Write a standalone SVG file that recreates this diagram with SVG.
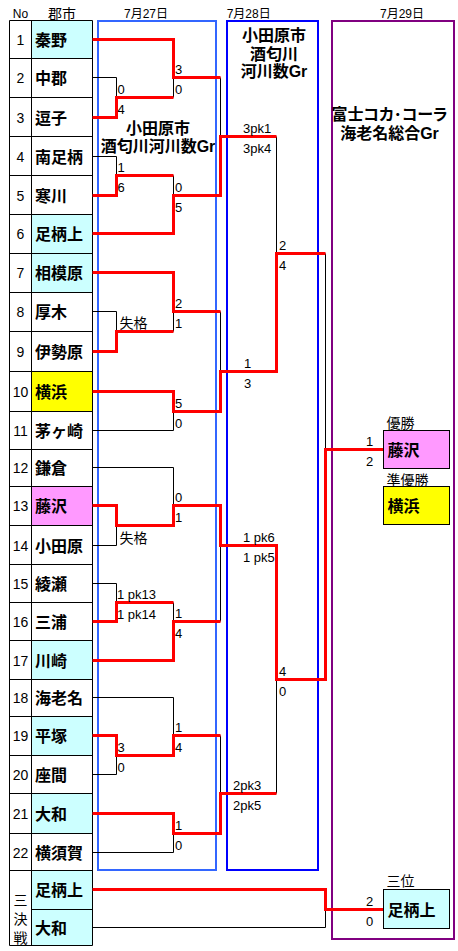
<svg xmlns="http://www.w3.org/2000/svg" width="458" height="951" viewBox="0 0 458 951">
<style>
.bg{fill:#fff}
.cell{fill:none;stroke:#000;stroke-width:1}
.cy{fill:#CCFFFF}
.ye{fill:#FFFF00}
.pk{fill:#FF99FF}
.k{fill:none;stroke:#000;stroke-width:1}
.r{fill:none;stroke:#FF0000;stroke-width:3;stroke-linejoin:miter}
.no{font:14px "Liberation Sans","Noto Sans CJK JP",sans-serif;text-anchor:middle;fill:#000}
.nm{font-weight:bold;font-size:16px;font-family:"Liberation Sans","Noto Sans CJK JP",sans-serif;fill:#000}
.sc{font:13px "Liberation Sans","Noto Sans CJK JP",sans-serif;fill:#000}
.hd{font:12px "Liberation Sans","Noto Sans CJK JP",sans-serif;text-anchor:middle;fill:#000}
.lb{font:14px "Liberation Sans","Noto Sans CJK JP",sans-serif;fill:#000}
.tt{font-weight:bold;font-size:16px;font-family:"Liberation Sans","Noto Sans CJK JP",sans-serif;text-anchor:middle;fill:#000}
.palt{font-feature-settings:"palt"}
.box{fill:none;stroke-width:2}
.wb{stroke:#000;stroke-width:1}
</style>
<rect class="bg" x="0" y="0" width="458" height="951"/>

<g id="headers">
<text class="hd" x="20.5" y="18.3">No</text>
<text class="hd" x="62" y="18.5" style="font-size:14px">郡市</text>
<text class="hd" x="146" y="18">7月27日</text>
<text class="hd" x="248.7" y="18">7月28日</text>
<text class="hd" x="402" y="18">7月29日</text>
</g>

<g id="venue-0727">
<rect class="box" x="98" y="21" width="118" height="849" stroke="#3366FF"/>
<text class="tt" x="158" y="133.8">小田原市</text>
<text class="tt" x="158" y="152.3">酒匂川河川数Gr</text>
</g>
<g id="venue-0728">
<rect class="box" x="227" y="21" width="91" height="849" stroke="#0000FF"/>
<text class="tt" x="274" y="41.3">小田原市</text>
<text class="tt" x="274" y="59.5">酒匂川</text>
<text class="tt" x="274" y="77.2">河川数Gr</text>
</g>
<g id="venue-0729">
<rect class="box" x="332" y="21" width="122" height="918" stroke="#800080"/>
<text class="tt palt" x="389.5" y="120.2">富士コカ･コーラ</text>
<text class="tt" x="389.5" y="139">海老名総合Gr</text>
</g>

<g id="table">
<rect class="cy" x="31.5" y="20.5" width="61" height="38"/>
<rect class="cy" x="31.5" y="214.5" width="61" height="39"/>
<rect class="cy" x="31.5" y="253.5" width="61" height="39"/>
<rect class="ye" x="31.5" y="371.5" width="61" height="40"/>
<rect class="pk" x="31.5" y="486.5" width="61" height="39"/>
<rect class="cy" x="31.5" y="640.5" width="61" height="39"/>
<rect class="cy" x="31.5" y="716.5" width="61" height="39"/>
<rect class="cy" x="31.5" y="793.5" width="61" height="40"/>
<rect class="cy" x="31.5" y="870.5" width="61" height="75"/>
<path class="cell" d="M9.5 20.5H92.5V945.5H9.5Z M31.5 20.5V945.5
M9.5 58.5H92.5 M9.5 97.5H92.5 M9.5 136.5H92.5 M9.5 175.5H92.5 M9.5 214.5H92.5 M9.5 253.5H92.5
M9.5 292.5H92.5 M9.5 331.5H92.5 M9.5 371.5H92.5 M9.5 411.5H92.5 M9.5 449.5H92.5 M9.5 486.5H92.5
M9.5 525.5H92.5 M9.5 564.5H92.5 M9.5 602.5H92.5 M9.5 640.5H92.5 M9.5 679.5H92.5 M9.5 716.5H92.5
M9.5 755.5H92.5 M9.5 793.5H92.5 M9.5 833.5H92.5 M9.5 870.5H92.5 M31.5 909.5H92.5"/>
</g>

<g id="team-1"><text class="no" x="20.5" y="44.5">1</text><text class="nm" x="35" y="45.5">秦野</text></g>
<g id="team-2"><text class="no" x="20.5" y="82.5">2</text><text class="nm" x="35" y="83.5">中郡</text></g>
<g id="team-3"><text class="no" x="20.5" y="122.5">3</text><text class="nm" x="35" y="123.5">逗子</text></g>
<g id="team-4"><text class="no" x="20.5" y="161.5">4</text><text class="nm" x="35" y="162.5">南足柄</text></g>
<g id="team-5"><text class="no" x="20.5" y="200.5">5</text><text class="nm" x="35" y="201.5">寒川</text></g>
<g id="team-6"><text class="no" x="20.5" y="238.5">6</text><text class="nm" x="35" y="239.5">足柄上</text></g>
<g id="team-7"><text class="no" x="20.5" y="277.5">7</text><text class="nm" x="35" y="278.5">相模原</text></g>
<g id="team-8"><text class="no" x="20.5" y="316.5">8</text><text class="nm" x="35" y="317.5">厚木</text></g>
<g id="team-9"><text class="no" x="20.5" y="356.5">9</text><text class="nm" x="35" y="357.5">伊勢原</text></g>
<g id="team-10"><text class="no" x="20.5" y="396.5">10</text><text class="nm" x="35" y="397.5">横浜</text></g>
<g id="team-11"><text class="no" x="20.5" y="435.5">11</text><text class="nm" x="35" y="436.5">茅ヶ崎</text></g>
<g id="team-12"><text class="no" x="20.5" y="472.5">12</text><text class="nm" x="35" y="473.5">鎌倉</text></g>
<g id="team-13"><text class="no" x="20.5" y="510.5">13</text><text class="nm" x="35" y="511.5">藤沢</text></g>
<g id="team-14"><text class="no" x="20.5" y="550.5">14</text><text class="nm" x="35" y="551.5">小田原</text></g>
<g id="team-15"><text class="no" x="20.5" y="588.5">15</text><text class="nm" x="35" y="589.5">綾瀬</text></g>
<g id="team-16"><text class="no" x="20.5" y="626.5">16</text><text class="nm" x="35" y="627.5">三浦</text></g>
<g id="team-17"><text class="no" x="20.5" y="665.5">17</text><text class="nm" x="35" y="666.5">川崎</text></g>
<g id="team-18"><text class="no" x="20.5" y="702.5">18</text><text class="nm" x="35" y="703.5">海老名</text></g>
<g id="team-19"><text class="no" x="20.5" y="740.5">19</text><text class="nm" x="35" y="741.5">平塚</text></g>
<g id="team-20"><text class="no" x="20.5" y="779.5">20</text><text class="nm" x="35" y="780.5">座間</text></g>
<g id="team-21"><text class="no" x="20.5" y="818.5">21</text><text class="nm" x="35" y="819.5">大和</text></g>
<g id="team-22"><text class="no" x="20.5" y="857.5">22</text><text class="nm" x="35" y="858.5">横須賀</text></g>
<g id="third-place-match">
<text class="no" x="20.5" y="905.3">三</text>
<text class="no" x="20.5" y="924.3">決</text>
<text class="no" x="20.5" y="943.3">戦</text>
<text class="nm" x="35" y="895.5">足柄上</text>
<text class="nm" x="35" y="933.5">大和</text>
</g>

<g id="connectors">
<path class="k" d="M92.5 77.5H116.5V97.5 M92.5 156.5H116.5V175.5 M173.5 175.5V195.5 M173.5 97.5V77.5 M220.5 77.5V136.5
M92.5 311.5H116.5V331.5 M173.5 331.5V311.5 M92.5 430.5H173.5V411.5 M220.5 311.5V371.5 M276.5 136.5V253.5 M325.5 253.5V449.5
M92.5 467.5H173.5V505.5 M92.5 545.5H116.5V525.5 M92.5 583.5H116.5V602.5 M173.5 602.5V621.5 M220.5 545.5V621.5
M92.5 697.5H173.5V735.5 M92.5 774.5H116.5V755.5 M92.5 852.5H173.5V833.5 M220.5 735.5V793.5 M276.5 679.5V793.5
M92.5 927.5H325.5V909.5"/>
<path class="r" d="M92.5 39.5H173.5V77.5H220.5"/>
<path class="r" d="M92.5 117.5H116.5V97.5H173.5"/>
<path class="r" d="M92.5 195.5H116.5V175.5H173.5"/>
<path class="r" d="M92.5 233.5H173.5V195.5H220.5V136.5H276.5"/>
<path class="r" d="M92.5 272.5H173.5V311.5H220.5"/>
<path class="r" d="M92.5 351.5H116.5V331.5H173.5"/>
<path class="r" d="M92.5 391.5H173.5V411.5H220.5V371.5H276.5V253.5H325.5"/>
<path class="r" d="M92.5 505.5H116.5V525.5H173.5V505.5H220.5V545.5H276.5V679.5H325.5V449.5H383.5"/>
<path class="r" d="M92.5 621.5H116.5V602.5H173.5"/>
<path class="r" d="M92.5 660.5H173.5V621.5H220.5"/>
<path class="r" d="M92.5 735.5H116.5V755.5H173.5V735.5H220.5"/>
<path class="r" d="M92.5 813.5H173.5V833.5H220.5V793.5H276.5"/>
<path class="r" d="M92.5 889.5H325.5V909.5H383.5"/>
</g>

<g id="scores">
<text class="sc" x="117.5" y="94.2">0</text><text class="sc" x="117.5" y="114.2">4</text>
<text class="sc" x="117.5" y="172.2">1</text><text class="sc" x="117.5" y="192.2">6</text>
<text class="lb" x="119.5" y="328">失格</text>
<text class="lb" x="119.5" y="542.5">失格</text>
<text class="sc" x="117" y="599.2">1 pk13</text><text class="sc" x="117" y="619.2">1 pk14</text>
<text class="sc" x="117.5" y="752.2">3</text><text class="sc" x="117.5" y="772.2">0</text>
<text class="sc" x="175" y="74.2">3</text><text class="sc" x="175" y="94.2">0</text>
<text class="sc" x="175" y="192.2">0</text><text class="sc" x="175" y="212.2">5</text>
<text class="sc" x="175" y="308.2">2</text><text class="sc" x="175" y="328.2">1</text>
<text class="sc" x="175" y="408.2">5</text><text class="sc" x="175" y="428.2">0</text>
<text class="sc" x="175" y="502.2">0</text><text class="sc" x="175" y="522.2">1</text>
<text class="sc" x="175" y="618.2">1</text><text class="sc" x="175" y="638.2">4</text>
<text class="sc" x="175" y="732.2">1</text><text class="sc" x="175" y="752.2">4</text>
<text class="sc" x="175" y="830.2">1</text><text class="sc" x="175" y="850.2">0</text>
<text class="sc" x="243" y="133.2">3pk1</text><text class="sc" x="243" y="153.2">3pk4</text>
<text class="sc" x="244" y="368.2">1</text><text class="sc" x="244" y="388.2">3</text>
<text class="sc" x="243" y="542.2">1 pk6</text><text class="sc" x="243" y="562.2">1 pk5</text>
<text class="sc" x="233" y="790.2">2pk3</text><text class="sc" x="233" y="810.2">2pk5</text>
<text class="sc" x="279" y="250.2">2</text><text class="sc" x="279" y="270.2">4</text>
<text class="sc" x="279" y="676.2">4</text><text class="sc" x="279" y="696.2">0</text>
<text class="sc" x="366" y="446.2">1</text><text class="sc" x="366" y="466.2">2</text>
<text class="sc" x="366" y="906.2">2</text><text class="sc" x="366" y="926.2">0</text>
</g>

<g id="champion">
<text class="lb" x="386.5" y="428">優勝</text>
<rect class="pk wb" x="383.5" y="430.5" width="66" height="38"/>
<text class="nm" x="387.5" y="455.5">藤沢</text>
</g>
<g id="runner-up">
<text class="lb" x="386.5" y="484.5">準優勝</text>
<rect class="ye wb" x="383.5" y="486.5" width="66" height="38"/>
<text class="nm" x="387.5" y="511.5">横浜</text>
</g>
<g id="third-place">
<text class="lb" x="386.5" y="886">三位</text>
<rect class="cy wb" x="383.5" y="889.5" width="66" height="39"/>
<text class="nm" x="387.5" y="915.5">足柄上</text>
</g>
</svg>
